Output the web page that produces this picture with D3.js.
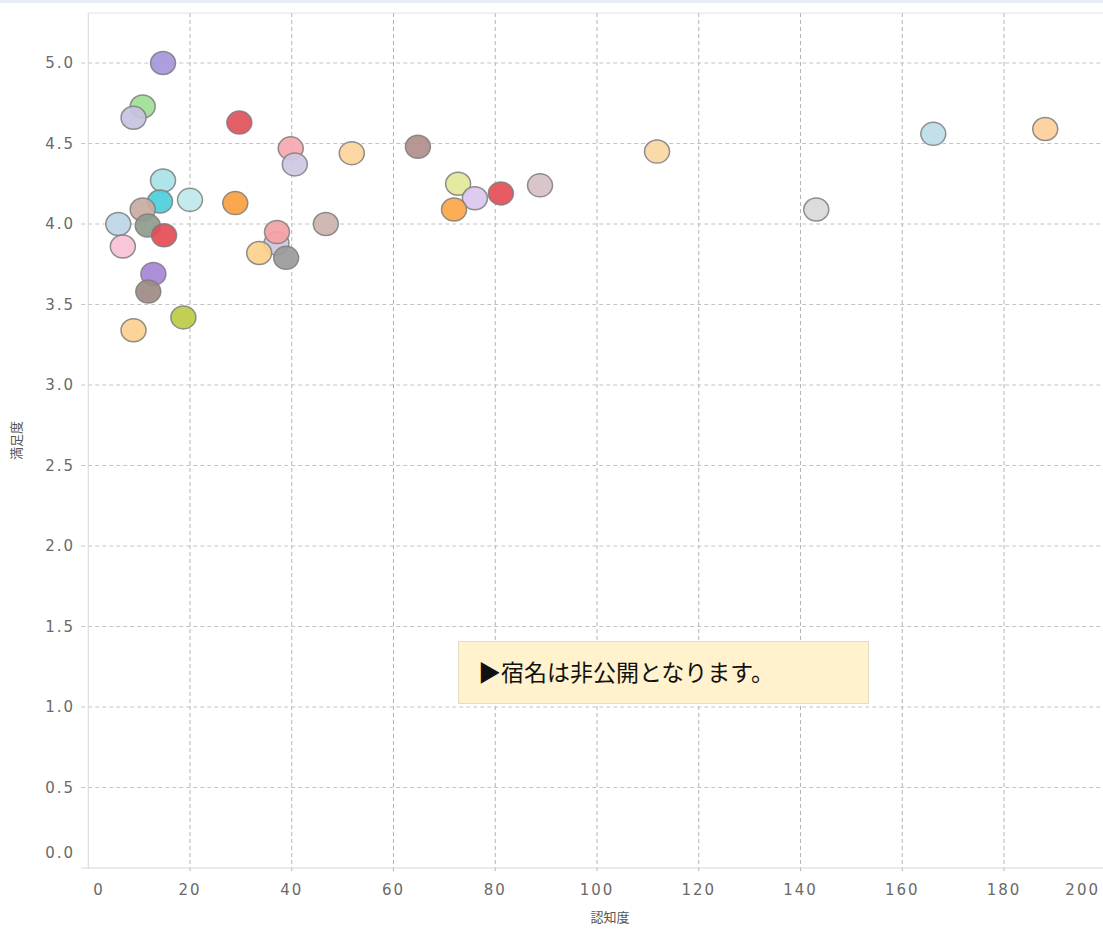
<!DOCTYPE html>
<html><head><meta charset="utf-8">
<script src="https://cdn.jsdelivr.net/npm/d3@7"></script>
<style>body{margin:0;background:#fff} svg{display:block}</style>
</head><body><svg id="c" width="1103" height="930"></svg>
<script>
// 認知度 (x) and 満足度 (y) for each lodging
const awareness = [14.7,10.7,8.9,29.7,39.8,40.6,51.8,64.8,111.8,166.1,188.1,
  14.7,14.1,20.0,28.9,10.7,5.9,11.7,14.9,6.8,
  72.7,76.0,81.1,71.9,88.8,143.1,46.7,
  37.0,37.1,33.6,38.9,12.8,11.8,18.7,8.9];
const satisfaction = [5.00,4.73,4.66,4.63,4.47,4.37,4.44,4.48,4.45,4.56,4.59,
  4.27,4.14,4.15,4.13,4.09,4.00,3.99,3.93,3.86,
  4.25,4.16,4.19,4.09,4.24,4.09,4.00,
  3.88,3.95,3.82,3.79,3.69,3.58,3.42,3.34];
const pointColors = ["#a596dc","#9edf95","#c5c3e0","#e0515a","#f5a8b0","#cfc5e3","#fcd49b","#b08e8a","#fbd7a3","#bcdde8","#fdcf9a",
  "#a8e3e6","#4ccfdc","#bfe8ec","#fba03f","#c9ad9f","#bcd6e6","#8f9a8c","#e34c56","#f7c0d6",
  "#e3e89a","#dcc7ef","#e44e55","#fca748","#d7c1c5","#d9d9d9","#cdb3ad",
  "#cdc7e0","#f4a1a3","#fcd08a","#9a9a98","#a686d6","#a08a84","#bccc45","#fcd08f"];
const xTicks = [0,20,40,60,80,100,120,140,160,180,200];
const yTicks = [0,0.5,1,1.5,2,2.5,3,3.5,4,4.5,5];
const xTitle = "認知度";
const yTitle = "満足度";
const note = "▶宿名は非公開となります。";

(function(){
const W = 1103, H = 930;
const svg = d3.select("#c");
const pl = 88.25, pt = 13, pb = 868, pr = W;
const x = d3.scaleLinear().domain([0,200]).range([pl, 1105.75]);
const y = d3.scaleLinear().domain([0,5]).range([pb, 63]);

// faint top strip
svg.append("rect").attr("x",0).attr("y",0).attr("width",W).attr("height",3).attr("fill","#e6edf7");

// gridlines
const grid = svg.append("g");
grid.selectAll("line.v").data(xTicks.filter(d=>d>0)).join("line")
  .attr("x1",d=>x(d)).attr("x2",d=>x(d)).attr("y1",pt).attr("y2",pb+5)
  .attr("stroke","#b3b3b3").attr("stroke-dasharray","4,3").attr("stroke-width",1);
grid.selectAll("line.h").data(yTicks.filter(d=>d>0)).join("line")
  .attr("x1",pl-7).attr("x2",pr).attr("y1",d=>y(d)).attr("y2",d=>y(d))
  .attr("stroke","#c4c4c4").attr("stroke-dasharray","4,3").attr("stroke-width",1);

// axes frame
svg.append("line").attr("x1",pl).attr("x2",pl).attr("y1",pt).attr("y2",pb).attr("stroke","#d6d6d6");
svg.append("line").attr("x1",pl-7).attr("x2",pr).attr("y1",pb).attr("y2",pb).attr("stroke","#d6d6d6");
svg.append("line").attr("x1",pl).attr("x2",pr).attr("y1",pt).attr("y2",pt).attr("stroke","#e0e0e0");

const tickFont = "'DejaVu Sans', Verdana, sans-serif";
// y tick labels
svg.append("g").selectAll("text").data(yTicks).join("text")
  .attr("x",75).attr("y",d=> d===0 ? y(d)-15 : y(d))
  .attr("dy","0.35em").attr("text-anchor","end")
  .attr("font-family",tickFont).attr("font-size",15).attr("letter-spacing","2px")
  .attr("fill","#6a6a6a").text(d=>d3.format(".1f")(d));
// x tick labels
svg.append("g").selectAll("text").data(xTicks).join("text")
  .attr("x",d=> d===0 ? x(d)+5 : (d===200 ? 1100 : x(d)))
  .attr("y",895).attr("text-anchor",d=> d===0 ? "start" : (d===200 ? "end" : "middle"))
  .attr("font-family",tickFont).attr("font-size",15).attr("letter-spacing","2px")
  .attr("fill","#6a6a6a").text(d=>d);

// axis titles
const cjk = "'Noto Sans CJK JP', 'Noto Sans', sans-serif";
svg.append("text").attr("x",610).attr("y",922).attr("text-anchor","middle")
  .attr("font-family",cjk).attr("font-size",13).attr("fill","#555").text(xTitle);
svg.append("text").attr("transform",`translate(21,${(pt+pb)/2}) rotate(-90)`)
  .attr("text-anchor","middle").attr("font-family",cjk).attr("font-size",13)
  .attr("fill","#555").text(yTitle);

// points
const pts = awareness.map((a,i)=>({a, s: satisfaction[i], c: pointColors[i]}));
svg.append("g").selectAll("ellipse").data(pts).join("ellipse")
  .attr("cx",d=>x(d.a)).attr("cy",d=>y(d.s)).attr("rx",12.5).attr("ry",11.5)
  .attr("fill",d=>d.c).attr("fill-opacity",0.92)
  .attr("stroke","#7d7d7d").attr("stroke-opacity",0.85).attr("stroke-width",1.5);

// note box
svg.append("rect").attr("x",458.5).attr("y",641.5).attr("width",410).attr("height",62)
  .attr("fill","#fff2cc").attr("stroke","#e3dcc6").attr("stroke-width",1);
svg.append("text").attr("x",478).attr("y",681).attr("font-family",cjk)
  .attr("font-size",23).attr("fill","#111").text(note);
})();
</script></body></html>
